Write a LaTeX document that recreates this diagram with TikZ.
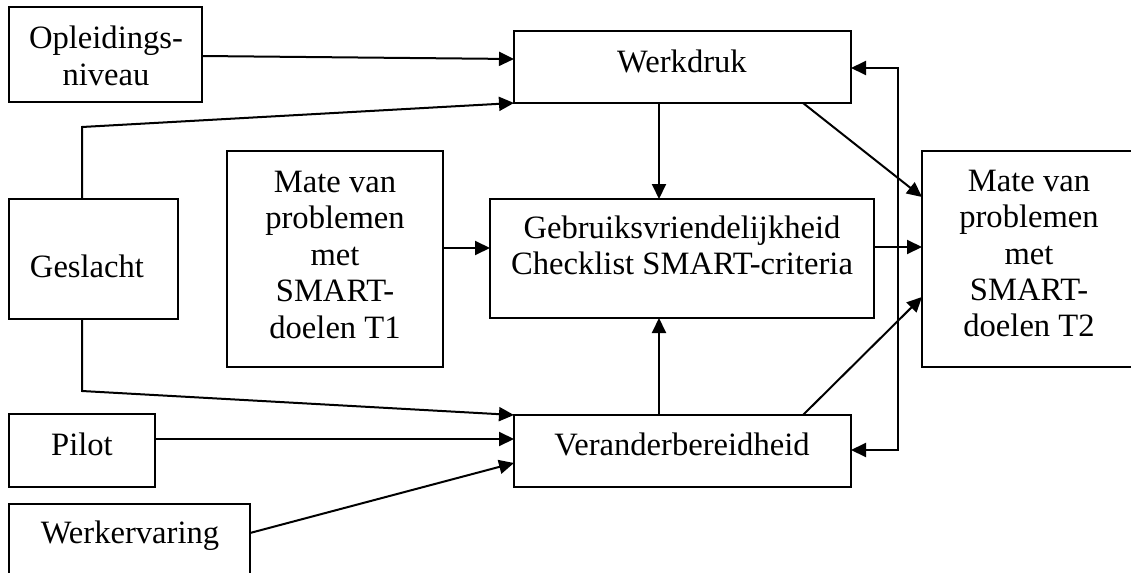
\documentclass[tikz,border=0pt]{standalone}
\usepackage{fontspec}
\setmainfont{Liberation Serif}
\usetikzlibrary{arrows.meta}
\tikzset{
  box/.style={draw, line width=1pt, inner sep=0pt, outer sep=0pt},
  txt/.style={inner sep=0pt, outer sep=0pt, anchor=base, font=\fontsize{16.3pt}{18.25pt}\selectfont},
  arr/.style={line width=1pt, -{Triangle[length=7.5pt,width=7pt]}},
  darr/.style={line width=1pt, {Triangle[length=7.5pt,width=7pt]}-{Triangle[length=7.5pt,width=7pt]}},
  conn/.style={line width=1pt}
}
\newcommand{\ml}[1]{\begin{tabular}[t]{@{}c@{}}#1\end{tabular}}
\begin{document}
\begin{tikzpicture}[x=0.5pt,y=-0.5pt]
\useasboundingbox (0,0) rectangle (1131,573);
\clip (0,0) rectangle (1131,573);
% boxes
\node[box, minimum width=96.5pt, minimum height=47.5pt] (opl) at (105.5,54.5) {};
\node[box, minimum width=168.5pt, minimum height=36pt] (wd) at (682.5,67) {};
\node[box, minimum width=84.5pt, minimum height=60pt] (gs) at (93.5,259) {};
\node[box, minimum width=108pt, minimum height=108pt] (t1) at (335,259) {};
\node[box, minimum width=192pt, minimum height=59.5pt] (gb) at (682,258.5) {};
\node[box, minimum width=109pt, minimum height=108pt] (t2) at (1031,259) {};
\node[box, minimum width=168.5pt, minimum height=36pt] (vb) at (682.5,451) {};
\node[box, minimum width=73pt, minimum height=36.5pt] (pi) at (82,450.5) {};
\node[box, minimum width=120.5pt, minimum height=48pt] (we) at (129.5,552) {};
% texts
\node[txt] (opl-t) at (106,48.5) {\ml{Opleidings-\\niveau}};
\node[txt] (wd-t) at (682,72) {Werkdruk};
\node[txt] (gs-t) at (87,277) {Geslacht};
\node[txt] (t1-t) at (335,192) {\ml{Mate van\\problemen\\met\\SMART-\\doelen T1}};
\node[txt] (t2-t) at (1029,191) {\ml{Mate van\\problemen\\met\\SMART-\\doelen T2}};
\node[txt] (gb-t) at (682,238) {\ml{Gebruiksvriendelijkheid\\Checklist SMART-criteria}};
\node[txt] (vb-t) at (682,455) {Veranderbereidheid};
\node[txt] (pi-t) at (82,455) {Pilot};
\node[txt] (we-t) at (130,543) {Werkervaring};
% connectors
\draw[arr] (opl.east |- 0,56) -- (wd.west |- 0,59);
\draw[arr] (gs.north -| 82,0) -- (82,127) -- (wd.south west);
\draw[arr] (wd.south -| 659,0) -- (gb.north -| 659,0);
\draw[arr] (wd.south -| 803,0) -- (t2.west |- 0,197);
\draw[arr] (t1.east |- 0,248) -- (gb.west |- 0,248);
\draw[arr] (gb.east |- 0,247) -- (t2.west |- 0,247);
\draw[arr] (vb.north -| 659,0) -- (gb.south -| 659,0);
\draw[arr] (vb.north -| 803,0) -- (t2.west |- 0,297);
\draw[arr] (gs.south -| 82,0) -- (82,391) -- (vb.north west);
\draw[arr] (pi.east |- 0,439) -- (vb.west |- 0,439);
\draw[arr] (we.east |- 0,533) -- (vb.west |- 0,463);
\draw[darr] (wd.east |- 0,68) -- (898,68) -- (898,450) -- (vb.east |- 0,450);
\end{tikzpicture}
\end{document}
